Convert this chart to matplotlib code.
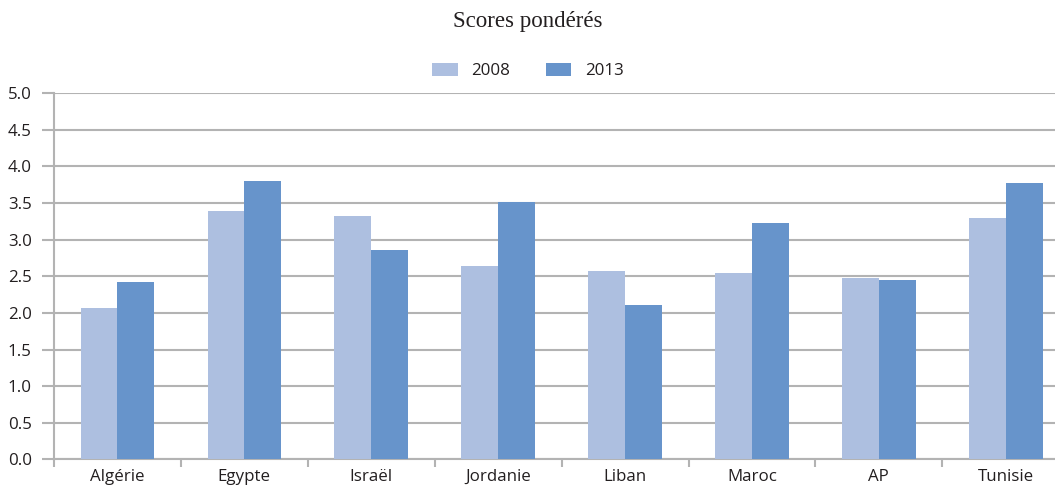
import matplotlib
matplotlib.use("Agg")
import matplotlib.pyplot as plt
import numpy as np

categories = ["Algérie", "Egypte", "Israël", "Jordanie", "Liban", "Maroc", "AP", "Tunisie"]
values_2008 = [2.07, 3.39, 3.32, 2.64, 2.57, 2.55, 2.48, 3.30]
values_2013 = [2.42, 3.80, 2.86, 3.51, 2.11, 3.23, 2.45, 3.77]
series_labels = ["2008", "2013"]
yticks = [0.0, 0.5, 1.0, 1.5, 2.0, 2.5, 3.0, 3.5, 4.0, 4.5, 5.0]

c2008 = "#ADBFE0"
c2013 = "#6794CB"
grid_c = "#B3B3B3"
text_c = "#231F20"

plt.rcParams['font.family'] = ['Open Sans', 'DejaVu Sans']
fs = 12.2

fig = plt.figure(figsize=(10.55, 4.86), dpi=100)
ax = fig.add_axes([54/1055, 1 - 459.3/486, 1 - 54/1055, (459.3 - 93.3)/486])

x = np.arange(len(categories))
w = 0.29
ax.bar(x - w/2, values_2008, width=w, color=c2008, label=series_labels[0], zorder=3)
ax.bar(x + w/2, values_2013, width=w, color=c2013, label=series_labels[1], zorder=3)

ax.set_yticks(yticks)
ax.set_yticklabels([f"{v:.1f}" for v in yticks], fontsize=fs, color=text_c)
ax.yaxis.grid(True, color=grid_c, linewidth=1.5, zorder=0)
ax.tick_params(axis='y', length=9, width=1.5, color=grid_c, pad=7)

ax.set_xticks(x)
ax.set_xticklabels(categories, fontsize=fs, color=text_c)
ax.tick_params(axis='x', which='major', length=0, pad=7)
ax.set_xticks(np.arange(len(categories) + 1) - 0.5, minor=True)
ax.tick_params(axis='x', which='minor', length=6, width=1.5, color=grid_c)

ax.set_ylim(0, 5.0)
ax.set_xlim(-0.5, -0.5 + (1055 - 54) / 126.9)

for s in ["top", "right"]:
    ax.spines[s].set_visible(False)
ax.spines["left"].set_color(grid_c)
ax.spines["left"].set_linewidth(1.5)
ax.spines["bottom"].set_color(grid_c)
ax.spines["bottom"].set_linewidth(1.5)

fig.text(0.5, 1 - 22/486, "Scores pondérés", ha="center", va="center",
         fontsize=16.5, family=["Liberation Serif"], color=text_c)

leg = fig.legend(loc="center", bbox_to_anchor=(528/1055, 1 - 71/486), ncol=2, frameon=False,
                 fontsize=fs, handlelength=1.5, handleheight=0.78, columnspacing=2.1,
                 handletextpad=0.8, borderaxespad=0.0)
for t in leg.get_texts():
    t.set_color(text_c)

fig.savefig("out.png", dpi=100)
